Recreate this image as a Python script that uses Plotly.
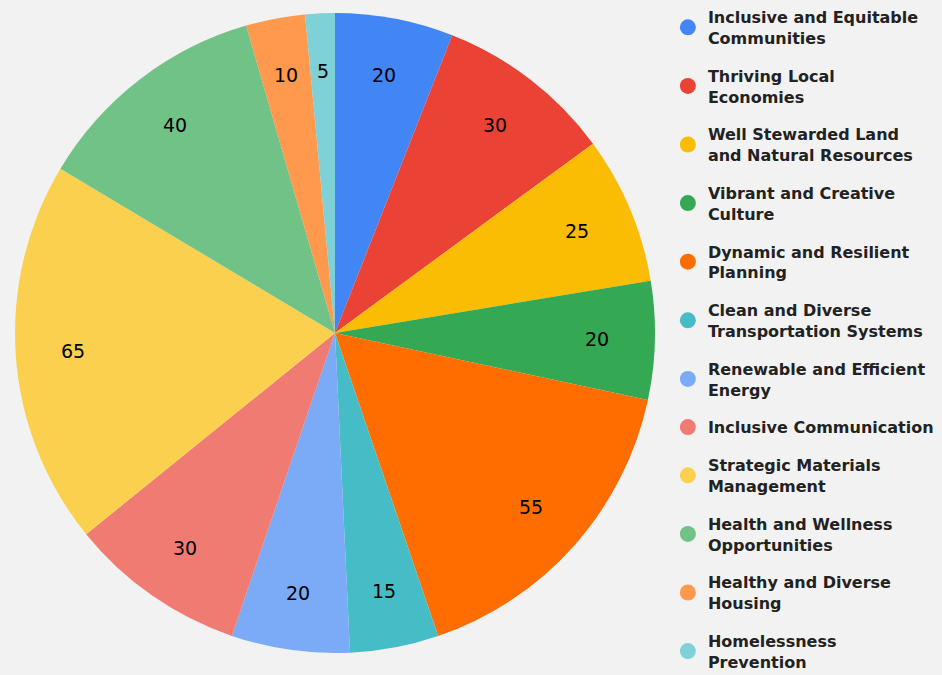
import math
import plotly.graph_objects as go

categories = [
    "Inclusive and Equitable<br>Communities",
    "Thriving Local<br>Economies",
    "Well Stewarded Land<br>and Natural Resources",
    "Vibrant and Creative<br>Culture",
    "Dynamic and Resilient<br>Planning",
    "Clean and Diverse<br>Transportation Systems",
    "Renewable and Efficient<br>Energy",
    "Inclusive Communication",
    "Strategic Materials<br>Management",
    "Health and Wellness<br>Opportunities",
    "Healthy and Diverse<br>Housing",
    "Homelessness<br>Prevention",
]
values = [20, 30, 25, 20, 55, 15, 20, 30, 65, 40, 10, 5]
colors = ["#4285F4", "#EA4335", "#FBBC04", "#34A853", "#FF6D01", "#46BDC6",
          "#7BAAF7", "#F07B72", "#FCD04F", "#71C287", "#FF994D", "#7ED1D7"]

W, H = 942, 675
dom_x = [15 / W, 655 / W]
dom_y = [1 - 653 / H, 1 - 13 / H]

fig = go.Figure()
fig.add_trace(go.Pie(
    labels=categories,
    values=values,
    sort=False,
    direction="clockwise",
    rotation=0,
    marker=dict(colors=colors, line=dict(width=0)),
    textinfo="none",
    domain=dict(x=dom_x, y=dom_y),
    hoverinfo="label+value+percent",
    showlegend=False,
))

# value labels placed at a fixed fraction of the radius along each slice's mid-angle
cx = (dom_x[0] + dom_x[1]) / 2
cy = (dom_y[0] + dom_y[1]) / 2
rx = (dom_x[1] - dom_x[0]) / 2
ry = (dom_y[1] - dom_y[0]) / 2
total = sum(values)
cum = 0
for v in values:
    mid = (cum + v / 2) / total * 2 * math.pi
    cum += v
    fig.add_annotation(
        x=cx + 0.82 * rx * math.sin(mid),
        y=cy + 0.82 * ry * math.cos(mid),
        xref="paper", yref="paper", text=str(v), showarrow=False,
        font=dict(family="DejaVu Sans", size=19, color="#000000"),
        xanchor="center", yanchor="middle",
    )

# legend entries with circular markers
for i, (lab, col) in enumerate(zip(categories, colors)):
    fig.add_trace(go.Scatter(
        x=[None], y=[None], mode="markers", name=lab,
        marker=dict(color=col, size=17, symbol="circle"),
        legendgroup=f"g{i}", showlegend=True, hoverinfo="skip",
    ))

fig.update_layout(
    width=W, height=H,
    margin=dict(l=0, r=0, t=0, b=0),
    paper_bgcolor="#F2F2F2",
    plot_bgcolor="#F2F2F2",
    xaxis=dict(visible=False),
    yaxis=dict(visible=False),
    showlegend=True,
    legend=dict(
        x=0.709, y=1 - 1.5 / H, xanchor="left", yanchor="top",
        font=dict(family="DejaVu Sans", size=16, color="#222222", weight="bold"),
        bgcolor="rgba(0,0,0,0)",
        itemsizing="trace",
        tracegroupgap=14,
        maxheight=900,
    ),
    font=dict(family="DejaVu Sans"),
)

fig.write_html("out.html", config={"displayModeBar": False},
               post_script="document.body.style.margin='0';")
